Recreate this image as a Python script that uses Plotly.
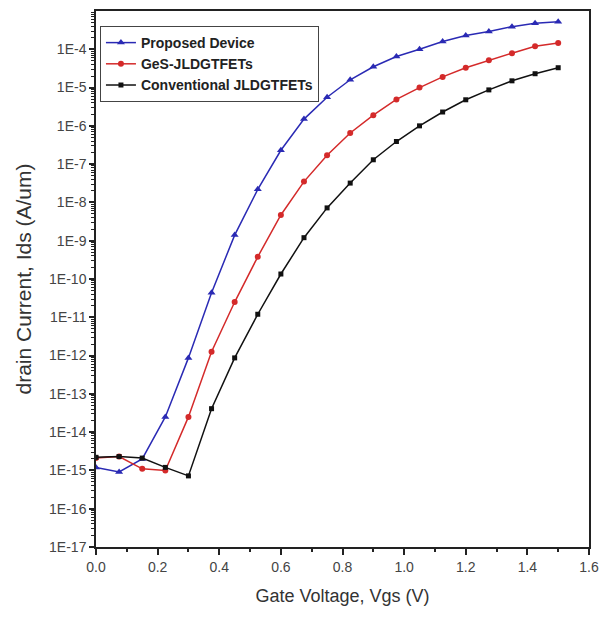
import plotly.graph_objects as go

vgs = [0.0, 0.075, 0.15, 0.225, 0.3, 0.375, 0.45, 0.525, 0.6, 0.675, 0.75,
       0.825, 0.9, 0.975, 1.05, 1.125, 1.2, 1.275, 1.35, 1.425, 1.5]

proposed = [1.2e-15, 9.1e-16, 2.0e-15, 2.5e-14, 8.7e-13, 4.4e-11, 1.4e-9, 2.2e-8,
            2.3e-7, 1.5e-6, 5.6e-6, 1.6e-5, 3.5e-5, 6.5e-5, 1.0e-4, 1.6e-4,
            2.3e-4, 2.9e-4, 3.9e-4, 4.8e-4, 5.2e-4]

ges = [2.1e-15, 2.3e-15, 1.1e-15, 1.0e-15, 2.5e-14, 1.26e-12, 2.5e-11, 3.8e-10,
       4.7e-9, 3.5e-8, 1.7e-7, 6.5e-7, 1.9e-6, 4.9e-6, 1.0e-5, 1.9e-5,
       3.3e-5, 5.2e-5, 7.9e-5, 1.2e-4, 1.45e-4]

conventional = [2.2e-15, 2.3e-15, 2.1e-15, 1.2e-15, 7.2e-16, 4.1e-14, 8.7e-13, 1.2e-11,
                1.35e-10, 1.2e-9, 7.2e-9, 3.2e-8, 1.3e-7, 3.9e-7, 1.0e-6, 2.3e-6,
                4.8e-6, 8.7e-6, 1.5e-5, 2.3e-5, 3.3e-5]

series_names = ["Proposed Device", "GeS-JLDGTFETs", "Conventional JLDGTFETs"]

y_exponents = list(range(-17, -3))
y_tickvals = [10.0 ** e for e in y_exponents]
y_ticktext = ["1E%d" % e for e in y_exponents]
y_minorvals = [m * 10.0 ** e for e in range(-17, -3) for m in range(2, 10)]
x_tickvals = [0.0, 0.2, 0.4, 0.6, 0.8, 1.0, 1.2, 1.4, 1.6]
x_ticktext = ["0.0", "0.2", "0.4", "0.6", "0.8", "1.0", "1.2", "1.4", "1.6"]

fig = go.Figure()
styles = [
    ("#2a2ab4", "triangle-up", 7),
    ("#d42a2a", "circle", 6),
    ("#111111", "square", 5),
]
for name, ys, (col, sym, sz) in zip(series_names, [proposed, ges, conventional], styles):
    fig.add_trace(go.Scatter(
        x=vgs, y=ys, mode="lines+markers", name="<b>" + name + "</b>",
        line=dict(color=col, width=1.5),
        marker=dict(color=col, symbol=sym, size=sz),
    ))

axis_font = dict(family="Liberation Sans, Arial, sans-serif", size=14, color="#444444")

fig.update_layout(
    width=608, height=621,
    margin=dict(l=96, r=9, t=11, b=74),
    paper_bgcolor="white", plot_bgcolor="white",
    showlegend=True,
    legend=dict(
        x=0.008, y=0.972, xanchor="left", yanchor="top",
        bgcolor="white", bordercolor="#444444", borderwidth=1,
        font=dict(family="Liberation Sans, Arial, sans-serif",
                  size=14, color="#222222"),
        tracegroupgap=0, itemwidth=30,
    ),
    xaxis=dict(
        range=[0, 1.6], tickvals=x_tickvals, ticktext=x_ticktext,
        ticks="outside", ticklen=6, tickwidth=1.5, tickcolor="#222222",
        minor=dict(ticks="outside", ticklen=3, dtick=0.1, tickcolor="#222222"),
        showline=True, linecolor="#222222", linewidth=1.5, mirror=True,
        showgrid=False, zeroline=False,
        tickfont=axis_font,
        title=dict(text="Gate Voltage, Vgs (V)", standoff=16,
                   font=dict(family="Liberation Sans, Arial, sans-serif", size=18, color="#333333")),
    ),
    yaxis=dict(
        type="log", range=[-17, -3],
        tickvals=y_tickvals, ticktext=y_ticktext,
        ticks="outside", ticklen=5, tickwidth=1.5, tickcolor="#222222",
        minor=dict(ticks="outside", ticklen=3, tickvals=y_minorvals, tickcolor="#222222",
                   tickwidth=1, showgrid=False),
        showline=True, linecolor="#222222", linewidth=1.5, mirror=True,
        showgrid=False, zeroline=False,
        tickfont=dict(family="Liberation Sans, Arial, sans-serif", size=14, color="#444444"),
        title=dict(text="drain Current, Ids (A/um)", standoff=12,
                   font=dict(family="Liberation Sans, Arial, sans-serif", size=21, color="#333333")),
    ),
)

fig.write_html("out.html")
